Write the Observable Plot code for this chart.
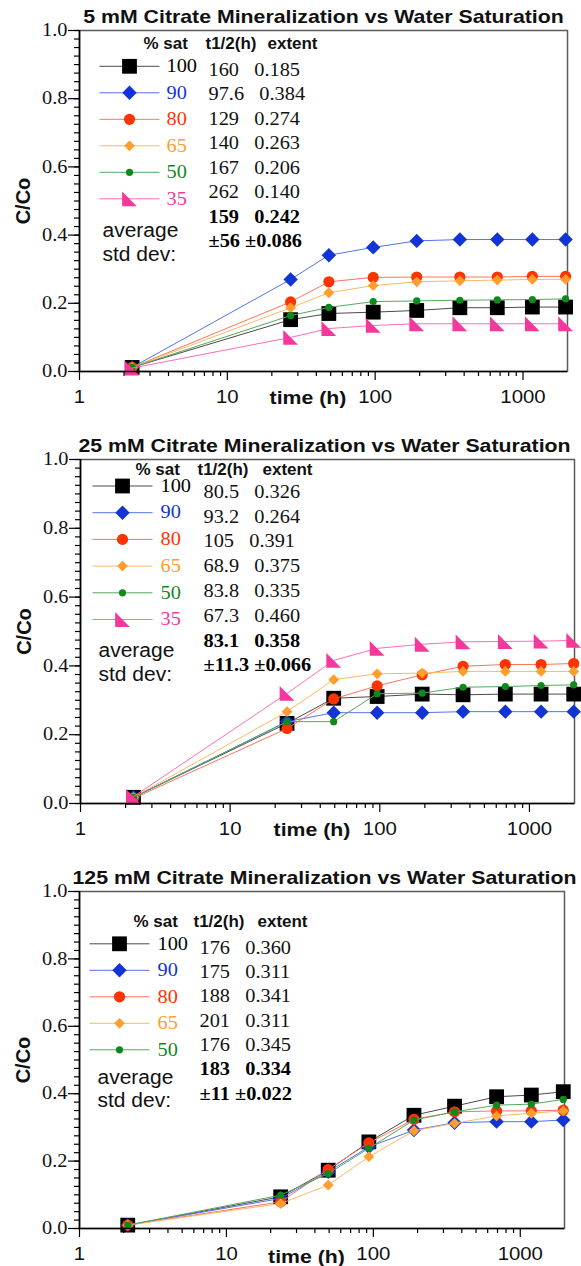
<!DOCTYPE html>
<html>
<head>
<meta charset="utf-8">
<script src="https://cdn.jsdelivr.net/npm/d3@7"></script>
<script src="https://cdn.jsdelivr.net/npm/@observablehq/plot@0.6"></script>
<style>
  body { margin: 0; background: #fff; }
  #chart svg { display: block; background: #fff; }
  #chart .serif text { font-family: "Liberation Serif", "Times New Roman", serif; }
  #chart .sans text { font-family: "Liberation Sans", Arial, Helvetica, sans-serif; }
</style>
</head>
<body>
<div id="chart"></div>
<script>
// ---- data: C/Co versus time (h), one series per % water saturation ----
const satLevels = ["100", "90", "80", "65", "50", "35"];

// 5 mM citrate
const time5mM = [2.27, 26.8, 48.6, 97, 191, 374, 670, 1157, 1941];
const c5mM_100 = [0.012, 0.152, 0.170, 0.174, 0.179, 0.187, 0.187, 0.189, 0.189];
const c5mM_90  = [0.012, 0.270, 0.341, 0.364, 0.383, 0.387, 0.387, 0.387, 0.387];
const c5mM_80  = [0.012, 0.204, 0.263, 0.276, 0.277, 0.277, 0.277, 0.279, 0.279];
const c5mM_65  = [0.012, 0.187, 0.231, 0.252, 0.263, 0.266, 0.268, 0.270, 0.270];
const c5mM_50  = [0.012, 0.164, 0.188, 0.205, 0.207, 0.209, 0.210, 0.211, 0.213];
const c5mM_35  = [0.010, 0.100, 0.126, 0.135, 0.140, 0.140, 0.140, 0.140, 0.140];
const halfLife5mM = ["160", "97.6", "129", "140", "167", "262"];
const extent5mM = ["0.185", "0.384", "0.274", "0.263", "0.206", "0.140"];
const average5mM = ["159", "0.242"];
const stdDev5mM = ["±56", "±0.086"];

// 25 mM citrate
const time25mM = [2.26, 24.0, 49.2, 96, 192, 360, 690, 1196, 1976];
const c25mM_100 = [0.018, 0.233, 0.306, 0.311, 0.318, 0.316, 0.318, 0.318, 0.318];
const c25mM_90  = [0.018, 0.238, 0.264, 0.264, 0.264, 0.267, 0.267, 0.267, 0.267];
const c25mM_80  = [0.015, 0.218, 0.304, 0.342, 0.374, 0.399, 0.404, 0.404, 0.407];
const c25mM_65  = [0.018, 0.267, 0.360, 0.377, 0.379, 0.384, 0.384, 0.384, 0.384];
const c25mM_50  = [0.018, 0.238, 0.238, 0.319, 0.321, 0.338, 0.340, 0.343, 0.345];
const c25mM_35  = [0.020, 0.320, 0.416, 0.451, 0.463, 0.470, 0.471, 0.472, 0.474];
const halfLife25mM = ["80.5", "93.2", "105", "68.9", "83.8", "67.3"];
const extent25mM = ["0.326", "0.264", "0.391", "0.375", "0.335", "0.460"];
const average25mM = ["83.1", "0.358"];
const stdDev25mM = ["±11.3", "±0.066"];

// 125 mM citrate (no 35 % core)
const time125mM = [2.13, 23.4, 49.3, 93.2, 189, 357, 690, 1189, 1962];
const c125mM_100 = [0.010, 0.094, 0.173, 0.257, 0.336, 0.363, 0.391, 0.396, 0.406];
const c125mM_90  = [0.010, 0.089, 0.168, 0.242, 0.292, 0.314, 0.317, 0.317, 0.322];
const c125mM_80  = [0.010, 0.079, 0.175, 0.254, 0.324, 0.346, 0.349, 0.349, 0.351];
const c125mM_65  = [0.010, 0.074, 0.129, 0.213, 0.290, 0.312, 0.334, 0.342, 0.349];
const c125mM_50  = [0.010, 0.099, 0.163, 0.238, 0.322, 0.346, 0.366, 0.369, 0.383];
const halfLife125mM = ["176", "175", "188", "201", "176"];
const extent125mM = ["0.360", "0.311", "0.341", "0.311", "0.345"];
const average125mM = ["183", "0.334"];
const stdDev125mM = ["±11", "±0.022"];

const yTicks = [0, 0.2, 0.4, 0.6, 0.8, 1.0];
const xTicks = [1, 10, 100, 1000];

// ---- marker shapes ----
const rOf = (size) => Math.sqrt(size / Math.PI);
const square = {draw(ctx, size) { const r = rOf(size); ctx.rect(-r, -r, 2 * r, 2 * r); }};
const diamond = {draw(ctx, size) { const r = rOf(size); ctx.moveTo(0, -r); ctx.lineTo(r, 0); ctx.lineTo(0, r); ctx.lineTo(-r, 0); ctx.closePath(); }};
const wedge = {draw(ctx, size) { const r = rOf(size); ctx.moveTo(-r, -r); ctx.lineTo(-r, r); ctx.lineTo(r, r); ctx.closePath(); }};
const legendStroke = {draw(ctx) { ctx.moveTo(-30, 0); ctx.lineTo(30, 0); }};

const seriesStyle = {
  "100": {symbol: square,   r: 7.4, fill: "#000000", line: "#4a4a4a", text: "#000000"},
  "90":  {symbol: diamond,  r: 7.2, fill: "#1234d6", line: "#5274ee", text: "#1234d6"},
  "80":  {symbol: "circle", r: 5.6, fill: "#ff3300", line: "#ff735c", text: "#ff3300"},
  "65":  {symbol: diamond,  r: 5.4, fill: "#ff9e2c", line: "#ffb865", text: "#ff9e2c"},
  "50":  {symbol: "circle", r: 3.6, fill: "#0d8a1d", line: "#55a85e", text: "#0d8a1d"},
  "35":  {symbol: wedge,    r: 7.4, fill: "#f5399c", line: "#ff6cbb", text: "#f5399c"}
};

const NB3 = "\u00A0\u00A0\u00A0";

const panels = [
  {
    title: "5 mM Citrate Mineralization vs Water Saturation",
    times: time5mM,
    series: [c5mM_100, c5mM_90, c5mM_80, c5mM_65, c5mM_50, c5mM_35],
    halfLife: halfLife5mM, extent: extent5mM, average: average5mM, stdDev: stdDev5mM,
    height: 421, marginTop: 30, marginBottom: 50, marginLeft: 79, marginRight: 14,
    titleDx: 0, xLabelDy: 27,
    lg: {headY: 13, headX: [64, 126, 188], rowY: 35.8, rowStep: 26.5, valY: 39.5, valStep: 24.5,
         markX: 50, labelX: 87, valX: 129, avgX: 23, avgY: 200, sdY: 224}
  },
  {
    title: "25 mM Citrate Mineralization vs Water Saturation",
    times: time25mM,
    series: [c25mM_100, c25mM_90, c25mM_80, c25mM_65, c25mM_50, c25mM_35],
    halfLife: halfLife25mM, extent: extent25mM, average: average25mM, stdDev: stdDev25mM,
    height: 424, marginTop: 38, marginBottom: 42, marginLeft: 80, marginRight: 7,
    titleDx: -3, xLabelDy: 27,
    lg: {headY: 10, headX: [55, 117, 182], rowY: 26.5, rowStep: 26.7, valY: 32.5, valStep: 24.8,
         markX: 42, labelX: 80, valX: 123, avgX: 18, avgY: 191, sdY: 215}
  },
  {
    title: "125 mM Citrate Mineralization vs Water Saturation",
    times: time125mM,
    series: [c125mM_100, c125mM_90, c125mM_80, c125mM_65, c125mM_50],
    halfLife: halfLife125mM, extent: extent125mM, average: average125mM, stdDev: stdDev125mM,
    height: 421, marginTop: 46, marginBottom: 38, marginLeft: 79, marginRight: 17,
    titleDx: 2.5, xLabelDy: 28.5,
    lg: {headY: 30.7, headX: [54, 114, 178], rowY: 52.3, rowStep: 26.5, valY: 56.5, valStep: 24.3,
         markX: 40, labelX: 78, valX: 120, avgX: 18, avgY: 186, sdY: 209}
  }
];

function label(text, opts) {
  return Plot.text([text], {text: (d) => d, lineAnchor: "middle", ...opts});
}

function drawPanel(p) {
  const lg = p.lg;
  const marks = [];

  // frame: grey box, black axes
  marks.push(Plot.frame({stroke: "#5a5a5a", strokeWidth: 1.5}));

  // data: line then markers, in legend order
  p.series.forEach((vals, i) => {
    const sat = satLevels[i];
    const st = seriesStyle[sat];
    const rows = vals.map((c, j) => ({t: p.times[j], c, sat}));
    marks.push(Plot.line(rows, {x: "t", y: "c", stroke: st.line, strokeWidth: 1}));
    marks.push(Plot.dot(rows, {x: "t", y: "c", symbol: st.symbol, r: st.r, fill: st.fill, stroke: "none"}));
  });

  // axes
  marks.push(
    Plot.axisY(d3.range(0, 1.0001, 0.025), {tickSize: 5, text: null, strokeWidth: 1.2, label: null}),
    Plot.axisY(yTicks, {tickSize: 11, tickPadding: 1, tickFormat: d3.format(".1f"), strokeWidth: 1.2,
      fontSize: 18, label: null, className: "serif w113", fill: "#111"}),
    Plot.axisX(xTicks.flatMap((d) => d3.range(2, 10).map((k) => d * k)).filter((d) => d < 2000),
      {tickSize: 5, text: null, strokeWidth: 1.2, label: null}),
    Plot.axisX(xTicks, {tickSize: 9, tickPadding: 9, tickFormat: (d) => String(d), strokeWidth: 1.2,
      fontSize: 18.5, label: null, className: "sans w110", fill: "#111"}),
    Plot.ruleX([1], {stroke: "#000", strokeWidth: 1.6}),
    Plot.ruleY([0], {stroke: "#000", strokeWidth: 1.6})
  );

  // titles
  marks.push(
    label(p.title, {frameAnchor: "top", dx: p.titleDx, dy: -13, textAnchor: "middle",
      fontWeight: "bold", fontSize: 18.5, className: "sans w115", fill: "#111"}),
    label("C/Co", {frameAnchor: "left", dx: -55.5, rotate: -90, textAnchor: "middle",
      fontWeight: "bold", fontSize: 20, className: "sans", fill: "#111"}),
    label("time (h)", {frameAnchor: "bottom", dx: -15.5, dy: p.xLabelDy, textAnchor: "middle",
      fontWeight: "bold", fontSize: 18.5, className: "sans w115", fill: "#111"})
  );

  // legend table
  const head = {frameAnchor: "top-left", dy: lg.headY, textAnchor: "start",
    fontWeight: "bold", fontSize: 16, className: "sans w106", fill: "#111"};
  marks.push(
    label("% sat", {...head, dx: lg.headX[0]}),
    label("t1/2(h)", {...head, dx: lg.headX[1]}),
    label("extent", {...head, dx: lg.headX[2]})
  );
  p.series.forEach((vals, i) => {
    const sat = satLevels[i];
    const st = seriesStyle[sat];
    const y = lg.rowY + i * lg.rowStep;
    marks.push(
      Plot.dot([sat], {frameAnchor: "top-left", dx: lg.markX, dy: y, symbol: legendStroke,
        fill: "none", stroke: st.line, strokeWidth: 1}),
      Plot.dot([sat], {frameAnchor: "top-left", dx: lg.markX, dy: y, symbol: st.symbol, r: st.r,
        fill: st.fill, stroke: "none"}),
      label(sat, {frameAnchor: "top-left", dx: lg.labelX, dy: y, textAnchor: "start",
        fontSize: 18, fill: st.text, className: "serif w113"}),
      label(p.halfLife[i] + NB3 + p.extent[i], {frameAnchor: "top-left", dx: lg.valX,
        dy: lg.valY + i * lg.valStep, textAnchor: "start", fontSize: 18,
        fill: "#111", className: "serif w113"})
    );
  });
  const n = p.series.length;
  marks.push(
    label(p.average.join(NB3), {frameAnchor: "top-left", dx: lg.valX, dy: lg.valY + n * lg.valStep,
      textAnchor: "start", fontWeight: "bold", fontSize: 18, fill: "#000", className: "serif w113"}),
    label(p.stdDev.join("\u00A0"), {frameAnchor: "top-left", dx: lg.valX, dy: lg.valY + (n + 1) * lg.valStep,
      textAnchor: "start", fontWeight: "bold", fontSize: 18, fill: "#000", className: "serif w113"}),
    label("average", {frameAnchor: "top-left", dx: lg.avgX, dy: lg.avgY, textAnchor: "start",
      fontSize: 20, fill: "#111", className: "sans w105"}),
    label("std dev:", {frameAnchor: "top-left", dx: lg.avgX, dy: lg.sdY, textAnchor: "start",
      fontSize: 20, fill: "#111", className: "sans w105"})
  );

  return Plot.plot({
    width: 581,
    height: p.height,
    marginTop: p.marginTop,
    marginBottom: p.marginBottom,
    marginLeft: p.marginLeft,
    marginRight: p.marginRight,
    style: {background: "#fff", overflow: "visible"},
    x: {type: "log", domain: [1, 2000], axis: null},
    y: {domain: [0, 1], axis: null},
    marks
  });
}

const host = document.getElementById("chart");
for (const p of panels) {
  const svg = drawPanel(p);
  host.appendChild(svg);
  // widen the text faces slightly to the proportions of the original typesetting
  for (const [cls, k] of [["w115", 1.15], ["w113", 1.13], ["w110", 1.1], ["w106", 1.06], ["w105", 1.05]]) {
    svg.querySelectorAll(`.${cls} text`).forEach((t) => {
      const w = t.getComputedTextLength();
      if (w > 0) {
        t.setAttribute("textLength", (w * k).toFixed(1));
        t.setAttribute("lengthAdjust", "spacingAndGlyphs");
      }
    });
  }
}
</script>
</body>
</html>
